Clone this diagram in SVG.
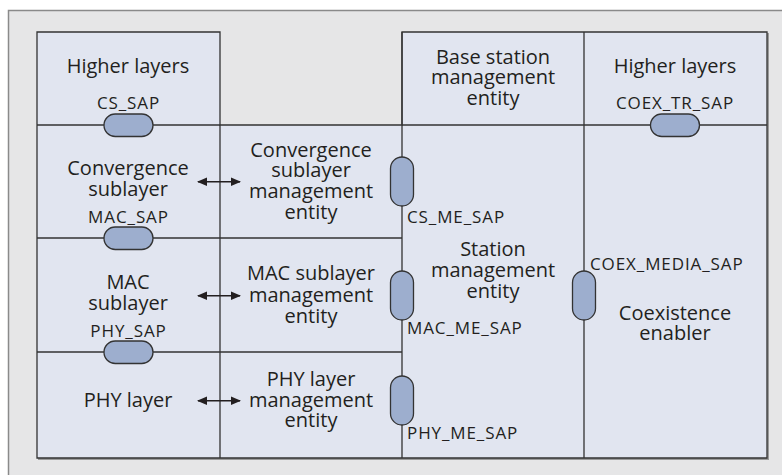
<svg xmlns="http://www.w3.org/2000/svg" width="782" height="475" viewBox="0 0 782 475">
<style>
.bg{fill:#e6e6e7}
.cell{fill:#e1e5f0;stroke:#333;stroke-width:1.3}
.ln{stroke:#333;stroke-width:1.3;fill:none}
.pill{fill:#9daece;stroke:#333;stroke-width:1.3}
.t{font-family:"Open Sans",sans-serif;font-size:20px;fill:#231f20;text-anchor:middle}
.s{font-family:"Open Sans",sans-serif;font-size:17px;letter-spacing:0.9px;fill:#231f20}
.m{text-anchor:middle}
.arr{stroke:#231f20;stroke-width:1.6;fill:none;marker-start:url(#ah);marker-end:url(#ah)}
</style>
<defs>
<marker id="ah" viewBox="0 0 10 10" refX="9" refY="5" markerWidth="10" markerHeight="8.5" markerUnits="userSpaceOnUse" orient="auto-start-reverse" preserveAspectRatio="none">
<path d="M0,0 L10,5 L0,10 z" fill="#231f20"/>
</marker>
</defs>
<rect class="bg" x="0" y="0" width="782" height="475"/>
<rect x="0" y="0" width="782" height="10" fill="#fff"/>
<rect x="0" y="0" width="8" height="475" fill="#fff"/>
<path d="M8.5,475 V10.5 H782" stroke="#8a8a8a" stroke-width="1.5" fill="none"/>
<g id="shadow" fill="#9a9a9a">
<rect x="767" y="33" width="2" height="427"/>
<rect x="38" y="458" width="731" height="2"/>
</g>
<g id="cells">
<path class="cell" d="M37,32 H220 V125 H402 V32 H767 V458 H37 Z"/>
<path class="ln" d="M220,125 V458 M402,32 V458 M584,32 V458 M37,125 H220 M402,125 H767 M37,238 H402 M37,352 H402"/>
</g>
<g id="higher-layers-left"><text class="t" x="128" y="73">Higher layers</text></g>
<g id="convergence-sublayer"><text class="t" x="128" y="175">Convergence</text><text class="t" x="128" y="195.5">sublayer</text></g>
<g id="mac-sublayer"><text class="t" x="128" y="288.5">MAC</text><text class="t" x="128" y="309.5">sublayer</text></g>
<g id="phy-layer"><text class="t" x="128" y="406.5">PHY layer</text></g>
<g id="cs-mgmt"><text class="t" x="311" y="156.5">Convergence</text><text class="t" x="311" y="177">sublayer</text><text class="t" x="311" y="198">management</text><text class="t" x="311" y="218.5">entity</text></g>
<g id="mac-mgmt"><text class="t" x="311" y="280">MAC sublayer</text><text class="t" x="311" y="301.5">management</text><text class="t" x="311" y="322.5">entity</text></g>
<g id="phy-mgmt"><text class="t" x="311" y="386">PHY layer</text><text class="t" x="311" y="406.5">management</text><text class="t" x="311" y="427">entity</text></g>
<g id="bs-mgmt"><text class="t" x="493" y="63.5">Base station</text><text class="t" x="493" y="84">management</text><text class="t" x="493" y="105">entity</text></g>
<g id="higher-layers-right"><text class="t" x="675" y="73">Higher layers</text></g>
<g id="station-mgmt"><text class="t" x="493" y="256">Station</text><text class="t" x="493" y="277">management</text><text class="t" x="493" y="298">entity</text></g>
<g id="coex-enabler"><text class="t" x="675" y="320">Coexistence</text><text class="t" x="675" y="340">enabler</text></g>
<g id="saps">
<rect class="pill" x="104" y="114" width="49" height="22.5" rx="11.25"/>
<rect class="pill" x="104" y="227" width="49" height="22.5" rx="11.25"/>
<rect class="pill" x="104" y="341" width="49" height="22.5" rx="11.25"/>
<rect class="pill" x="650.5" y="114" width="49" height="22.5" rx="11.25"/>
<rect class="pill" x="390.5" y="157" width="23" height="49" rx="11.5"/>
<rect class="pill" x="390.5" y="271" width="23" height="49" rx="11.5"/>
<rect class="pill" x="390.5" y="376" width="23" height="49" rx="11.5"/>
<rect class="pill" x="572.5" y="271" width="23" height="49" rx="11.5"/>
<text class="s m" x="128.5" y="108.5">CS_SAP</text>
<text class="s m" x="128.5" y="222.5">MAC_SAP</text>
<text class="s m" x="128.5" y="336.5">PHY_SAP</text>
<text class="s m" x="675" y="108.5">COEX_TR_SAP</text>
<text class="s" x="407" y="222.5">CS_ME_SAP</text>
<text class="s" x="407" y="333.5">MAC_ME_SAP</text>
<text class="s" x="407" y="438.5">PHY_ME_SAP</text>
<text class="s" x="590" y="269.5">COEX_MEDIA_SAP</text>
</g>
<g id="connectors">
<line class="arr" x1="198" y1="181.7" x2="240" y2="181.7"/>
<line class="arr" x1="198" y1="295.7" x2="240" y2="295.7"/>
<line class="arr" x1="198" y1="400.7" x2="240" y2="400.7"/>
</g>
</svg>
